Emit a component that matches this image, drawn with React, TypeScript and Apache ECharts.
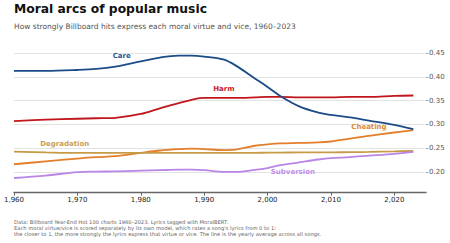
import React, { useEffect, useRef } from "react";
import * as echarts from "echarts";

// Sampled years and yearly-average scores per moral dimension
const years = [1960, 1965, 1970, 1973, 1976, 1980, 1983, 1986, 1988, 1990, 1993, 1995, 1998, 2000, 2002, 2005, 2008, 2010, 2013, 2016, 2020, 2023];
const care = [0.413, 0.413, 0.4148, 0.417, 0.422, 0.433, 0.441, 0.445, 0.445, 0.443, 0.437, 0.424, 0.397, 0.379, 0.36, 0.338, 0.325, 0.32, 0.315, 0.308, 0.299, 0.29];
const harm = [0.307, 0.31, 0.312, 0.313, 0.314, 0.322, 0.334, 0.345, 0.352, 0.356, 0.356, 0.356, 0.357, 0.358, 0.358, 0.357, 0.357, 0.357, 0.358, 0.358, 0.36, 0.361];
const cheating = [0.216, 0.222, 0.228, 0.231, 0.233, 0.24, 0.245, 0.248, 0.249, 0.248, 0.246, 0.247, 0.255, 0.258, 0.26, 0.261, 0.262, 0.264, 0.27, 0.276, 0.283, 0.288];
const degradation = [0.2425, 0.241, 0.24, 0.24, 0.24, 0.24, 0.24, 0.24, 0.24, 0.24, 0.24, 0.24, 0.24, 0.2405, 0.2405, 0.241, 0.241, 0.241, 0.2415, 0.242, 0.243, 0.244];
const subversion = [0.187, 0.192, 0.1995, 0.2005, 0.201, 0.2025, 0.2035, 0.2045, 0.2045, 0.2035, 0.2, 0.2, 0.204, 0.208, 0.214, 0.22, 0.226, 0.229, 0.231, 0.234, 0.238, 0.242];

const yTicks = [0.2, 0.25, 0.3, 0.35, 0.4, 0.45];

// In-plot series labels: [name, year, value, colour]
const labels: [string, number, number, string][] = [
  ["Care", 1977.0, 0.4449, "#2a5a96"],
  ["Harm", 1993.1, 0.3747, "#c8232a"],
  ["Degradation", 1968.0, 0.2593, "#c9a04e"],
  ["Cheating", 2016.0, 0.2945, "#e08a36"],
  ["Subversion", 2004.0, 0.199, "#c08ee8"],
];

const seriesDefs: [string, number[], string][] = [
  ["Care", care, "#1c4c87"],
  ["Harm", harm, "#c0161c"],
  ["Cheating", cheating, "#e37f2a"],
  ["Degradation", degradation, "#c69a47"],
  ["Subversion", subversion, "#b985e6"],
];

const FONT = "DejaVu Sans";

export default function App() {
  const ref = useRef<HTMLDivElement>(null);

  useEffect(() => {
    document.body.style.margin = "0";
    document.body.style.overflow = "hidden";
    if (!ref.current) return;
    const chart = echarts.init(ref.current, undefined, { renderer: "svg" });

    const series: any[] = seriesDefs.map(([name, vals, color]) => {
      const lab = labels.find((l) => l[0] === name)!;
      return {
        type: "line",
        name,
        data: years.map((y, i) => [y, vals[i]]),
        smooth: 0.35,
        showSymbol: false,
        lineStyle: { color, width: 1.8 },
        z: name === "Care" ? 5 : 3,
        markPoint: {
          symbol: "circle",
          symbolSize: 0,
          data: [{ coord: [lab[1], lab[2]] }],
          label: {
            show: true,
            position: "inside",
            formatter: name,
            color: lab[3],
            fontFamily: FONT,
            fontWeight: "bold",
            fontSize: 7,
          },
        },
      };
    });

    chart.setOption({
      animation: false,
      backgroundColor: "#ffffff",
      title: [
        {
          text: "Moral arcs of popular music",
          left: 14,
          top: 3,
          padding: 0,
          textStyle: { fontFamily: FONT, fontWeight: "bold", fontSize: 12.3, color: "#111" },
        },
        {
          text: "How strongly Billboard hits express each moral virtue and vice, 1960\u20132023",
          left: 14,
          top: 22,
          padding: 0,
          textStyle: { fontFamily: FONT, fontWeight: "normal", fontSize: 7.5, color: "#555" },
        },
        {
          text:
            "Data: Billboard Year-End Hot 100 charts 1960\u20132023. Lyrics tagged with MoralBERT.\n" +
            "Each moral virtue/vice is scored separately by its own model, which rates a song's lyrics from 0 to 1:\n" +
            "the closer to 1, the more strongly the lyrics express that virtue or vice. The line is the yearly average across all songs.",
          left: 14,
          top: 219,
          padding: 0,
          textStyle: { fontFamily: FONT, fontWeight: "normal", fontSize: 5.2, lineHeight: 6, color: "#666" },
        },
      ],
      grid: { left: 14, right: 24, top: 53.3, bottom: 50.3, containLabel: false },
      xAxis: {
        type: "value",
        min: 1960,
        max: 2025,
        interval: 10,
        axisLine: { show: true, lineStyle: { color: "#666", width: 1.4 } },
        axisTick: { show: true, length: 3, lineStyle: { color: "#666", width: 1 } },
        axisLabel: { fontFamily: FONT, fontSize: 7, color: "#222", margin: 4, showMaxLabel: false },
        splitLine: { show: false },
      },
      yAxis: {
        type: "value",
        position: "right",
        min: 0.156,
        max: 0.45,
        axisLine: { show: false },
        axisTick: { show: true, length: 2.5, customValues: yTicks, lineStyle: { color: "#aaa" } },
        axisLabel: {
          customValues: yTicks,
          fontFamily: FONT,
          fontSize: 7,
          color: "#555",
          margin: 3,
          formatter: (v: number) => v.toFixed(2),
        },
        splitLine: { show: true, lineStyle: { color: "#e3e3e3", width: 1 } },
      },
      series,
    });

    return () => chart.dispose();
  }, []);

  return <div ref={ref} style={{ width: 450, height: 243 }} />;
}
